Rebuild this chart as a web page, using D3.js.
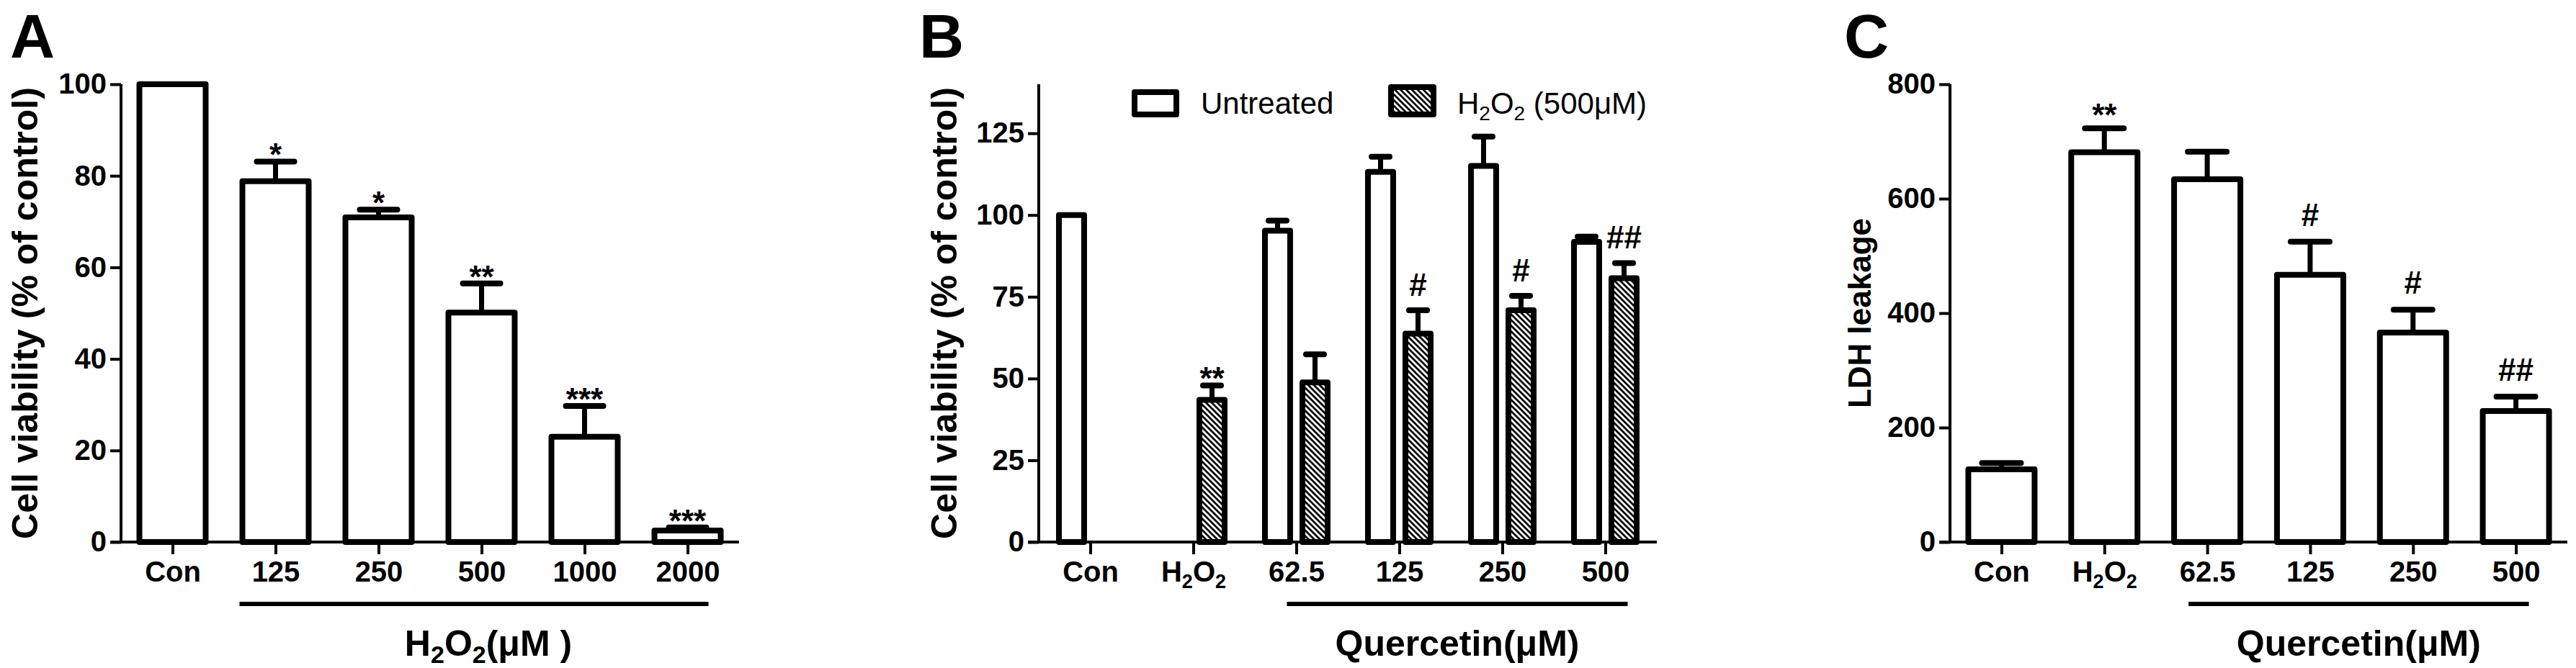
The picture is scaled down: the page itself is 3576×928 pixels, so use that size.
<!DOCTYPE html>
<html>
<head>
<meta charset="utf-8">
<script src="https://cdn.jsdelivr.net/npm/d3@7"></script>
<style>
body { margin: 0; background: #fff; }
text { font-family: Arial, "Liberation Sans", sans-serif; fill: #000; }
</style>
</head>
<body>
<svg id="fig" width="3576" height="928"></svg>
<script>
// ---- panel A : H2O2 dose response
var catsA  = ["Con", "125", "250", "500", "1000", "2000"];
var meanA  = [100, 78.8, 70.9, 50.1, 23.0, 2.5];
var semA   = [0, 4.3, 1.7, 6.4, 6.7, 0.7];
var sigA   = ["", "*", "*", "**", "***", "***"];
var ticksA = [0, 20, 40, 60, 80, 100];

// ---- panel B : quercetin pre-treatment, viability
var catsB        = ["Con", "H2O2", "62.5", "125", "250", "500"];
var untreatedB   = [100, null, 95.2, 113.2, 115.0, 91.8];
var untrSemB     = [0, null, 3.1, 4.6, 9.0, 1.6];
var h2o2B        = [null, 43.5, 48.8, 63.7, 70.9, 80.7];
var h2o2SemB     = [null, 4.4, 8.6, 7.2, 4.4, 4.6];
var sigB         = ["", "**", "", "#", "#", "##"];
var ticksB       = [0, 25, 50, 75, 100, 125];

// ---- panel C : LDH leakage
var catsC  = ["Con", "H2O2", "62.5", "125", "250", "500"];
var meanC  = [127, 681, 634, 467, 366, 229];
var semC   = [11, 42, 48, 58, 40, 25];
var sigC   = ["", "**", "", "#", "#", "##"];
var ticksC = [0, 200, 400, 600, 800];

var yTop = 117, yBot = 753;
var svg = d3.select("#fig");

// hatch pattern for H2O2 bars
var defs = svg.append("defs");
var pat = defs.append("pattern")
    .attr("id", "hatch")
    .attr("patternUnits", "userSpaceOnUse")
    .attr("width", 5.6).attr("height", 5.6)
    .attr("patternTransform", "rotate(45)");
pat.append("rect").attr("width", 5.6).attr("height", 5.6).attr("fill", "#fff");
pat.append("rect").attr("width", 5.6).attr("height", 2.7).attr("fill", "#000");

function subscriptH2O2(sel, big, small, shift) {
    // rewrite "H2O2" as H₂O₂ with real subscripts
    sel.text(null);
    sel.append("tspan").text("H");
    sel.append("tspan").attr("font-size", small).attr("dy", shift).text("2");
    sel.append("tspan").attr("font-size", big).attr("dy", -shift).text("O");
    sel.append("tspan").attr("font-size", small).attr("dy", shift).text("2");
    return sel;
}

function drawAxes(g, x, y, x0, x1, ticks) {
    var ya = g.append("g")
        .attr("transform", "translate(" + x0 + ",0)")
        .call(d3.axisLeft(y).tickValues(ticks).tickSize(15).tickPadding(5));
    ya.select(".domain").remove();
    ya.selectAll(".tick line").attr("stroke", "#000").attr("stroke-width", 4);
    ya.selectAll(".tick text").attr("font-size", 40).attr("font-weight", "bold")
        .attr("font-family", "Arial, 'Liberation Sans', sans-serif");

    var xa = g.append("g")
        .attr("transform", "translate(0," + yBot + ")")
        .call(d3.axisBottom(x).tickSize(17).tickPadding(10));
    xa.select(".domain").remove();
    xa.selectAll(".tick line").attr("stroke", "#000").attr("stroke-width", 4);
    xa.selectAll(".tick text").attr("font-size", 40).attr("font-weight", "bold")
        .attr("font-family", "Arial, 'Liberation Sans', sans-serif");
    xa.selectAll(".tick text").filter(function(d) { return d == "H2O2"; })
        .each(function() { subscriptH2O2(d3.select(this), 40, 27, 9); });

    g.append("line")
        .attr("x1", x0).attr("x2", x0)
        .attr("y1", y(0) + 2).attr("y2", y.range()[1])
        .attr("stroke", "#000").attr("stroke-width", 4);
    g.append("line")
        .attr("x1", x0 - 15).attr("x2", x1)
        .attr("y1", y(0)).attr("y2", y(0))
        .attr("stroke", "#000").attr("stroke-width", 4);
}

function drawBars(g, x, y, cats, vals, sems, offset, bw, capW, fill) {
    var data = cats.map(function(c, i) {
        return {cat: c, v: vals[i], e: sems[i]};
    }).filter(function(d) { return d.v != null; });

    g.append("g").selectAll("rect")
        .data(data)
        .enter().append("rect")
        .attr("x", function(d) { return x(d.cat) + offset - bw / 2; })
        .attr("y", function(d) { return y(d.v); })
        .attr("width", bw)
        .attr("height", function(d) { return y(0) - y(d.v); })
        .attr("fill", fill)
        .attr("stroke", "#000")
        .attr("stroke-width", 8)
        .attr("stroke-linejoin", "round");

    var eb = g.append("g").selectAll("g")
        .data(data.filter(function(d) { return d.e > 0; }))
        .enter().append("g");
    eb.append("line")
        .attr("x1", function(d) { return x(d.cat) + offset; })
        .attr("x2", function(d) { return x(d.cat) + offset; })
        .attr("y1", function(d) { return y(d.v); })
        .attr("y2", function(d) { return y(d.v + d.e); })
        .attr("stroke", "#000").attr("stroke-width", 7);
    eb.append("line")
        .attr("x1", function(d) { return x(d.cat) + offset - capW / 2; })
        .attr("x2", function(d) { return x(d.cat) + offset + capW / 2; })
        .attr("y1", function(d) { return y(d.v + d.e); })
        .attr("y2", function(d) { return y(d.v + d.e); })
        .attr("stroke", "#000").attr("stroke-width", 8)
        .attr("stroke-linecap", "round");
}

function drawSig(g, x, y, cats, vals, sems, sigs, offset, starGap, hashGap) {
    cats.forEach(function(c, i) {
        var s = sigs[i];
        if (!s) return;
        var top = y(vals[i] + sems[i]);
        var base = s.charAt(0) == "#" ? top - hashGap : top + starGap;
        g.append("text")
            .attr("x", x(c) + offset)
            .attr("y", base)
            .attr("text-anchor", "middle")
            .attr("font-size", 44)
            .attr("font-weight", "bold")
            .text(s);
    });
}

function yTitle(g, xBase, label, size) {
    g.append("text")
        .attr("transform", "translate(" + xBase + "," + (yTop + yBot) / 2 + ") rotate(-90)")
        .attr("text-anchor", "middle")
        .attr("font-size", size)
        .attr("font-weight", "bold")
        .text(label);
}

function groupLabel(g, x, from, to, dl, dr, labelDx) {
    var a = x(from) + dl, b = x(to) + dr;
    g.append("line")
        .attr("x1", a).attr("x2", b)
        .attr("y1", 839).attr("y2", 839)
        .attr("stroke", "#000").attr("stroke-width", 6);
    return g.append("text")
        .attr("x", (a + b) / 2 + labelDx)
        .attr("y", 911)
        .attr("text-anchor", "middle")
        .attr("font-size", 50)
        .attr("font-weight", "bold");
}

function panelLetter(g, xPos, letter) {
    g.append("text")
        .attr("x", xPos).attr("y", 80)
        .attr("font-size", 86)
        .attr("font-weight", "bold")
        .text(letter);
}

// ================= A =================
(function() {
    var g = svg.append("g");
    var x0 = 168, x1 = 1026;
    var x = d3.scalePoint().domain(catsA).range([x0, x1]).padding(0.5);
    var y = d3.scaleLinear().domain([0, 100]).range([yBot, yTop]);

    drawBars(g, x, y, catsA, meanA, semA, 0, 92, 52, "#fff");
    drawAxes(g, x, y, x0, x1, ticksA);
    drawSig(g, x, y, catsA, meanA, semA, sigA, 0, 6, 20);
    yTitle(g, 52, "Cell viability (% of control)", 50);
    panelLetter(g, 14, "A");

    var t = groupLabel(g, x, "125", "2000", -50, 29, 20);
    t.append("tspan").text("H");
    t.append("tspan").attr("font-size", 34).attr("dy", 10).text("2");
    t.append("tspan").attr("dy", -10).text("O");
    t.append("tspan").attr("font-size", 34).attr("dy", 10).text("2");
    t.append("tspan").attr("dy", -10).text("(\u03bcM )");
})();

// ================= B =================
(function() {
    var g = svg.append("g");
    var x0 = 1442, x1 = 2300;
    var x = d3.scalePoint().domain(catsB).range([x0, x1]).padding(0.5);
    var y = d3.scaleLinear().domain([0, 140]).range([yBot, yTop]);

    drawBars(g, x, y, catsB, untreatedB, untrSemB, -26, 35, 25, "#fff");
    drawBars(g, x, y, catsB, h2o2B, h2o2SemB, 26, 35, 25, "url(#hatch)");
    drawAxes(g, x, y, x0, x1, ticksB);
    drawSig(g, x, y, catsB, h2o2B.map(function(v) { return v || 0; }),
            h2o2SemB.map(function(v) { return v || 0; }), sigB, 26, 6, 20);
    yTitle(g, 1328, "Cell viability (% of control)", 50);
    panelLetter(g, 1276, "B");

    var t = groupLabel(g, x, "62.5", "500", -13, 31, 0);
    t.text("Quercetin(\u03bcM)");

    // legend
    var lg = g.append("g");
    lg.append("rect").attr("x", 1575).attr("y", 128).attr("width", 58).attr("height", 31)
        .attr("fill", "#fff").attr("stroke", "#000").attr("stroke-width", 8)
        .attr("stroke-linejoin", "round");
    lg.append("text").attr("x", 1667).attr("y", 158).attr("font-size", 42).text("Untreated");
    lg.append("rect").attr("x", 1931).attr("y", 121).attr("width", 59).attr("height", 38)
        .attr("fill", "url(#hatch)").attr("stroke", "#000").attr("stroke-width", 8)
        .attr("stroke-linejoin", "round");
    var lt = lg.append("text").attr("x", 2023).attr("y", 158).attr("font-size", 42);
    lt.append("tspan").text("H");
    lt.append("tspan").attr("font-size", 28).attr("dy", 9).text("2");
    lt.append("tspan").attr("dy", -9).text("O");
    lt.append("tspan").attr("font-size", 28).attr("dy", 9).text("2");
    lt.append("tspan").attr("dy", -9).text(" (500\u03bcM)");
})();

// ================= C =================
(function() {
    var g = svg.append("g");
    var x0 = 2707, x1 = 3564;
    var x = d3.scalePoint().domain(catsC).range([x0, x1]).padding(0.5);
    var y = d3.scaleLinear().domain([0, 800]).range([yBot, yTop]);

    drawBars(g, x, y, catsC, meanC, semC, 0, 92, 54, "#fff");
    drawAxes(g, x, y, x0, x1, ticksC);
    drawSig(g, x, y, catsC, meanC, semC, sigC, 0, -3, 22);
    yTitle(g, 2597, "LDH leakage", 44);
    panelLetter(g, 2560, "C");

    var t = groupLabel(g, x, "62.5", "500", -26, 18, 0);
    t.text("Quercetin(\u03bcM)");
})();
</script>
</body>
</html>
